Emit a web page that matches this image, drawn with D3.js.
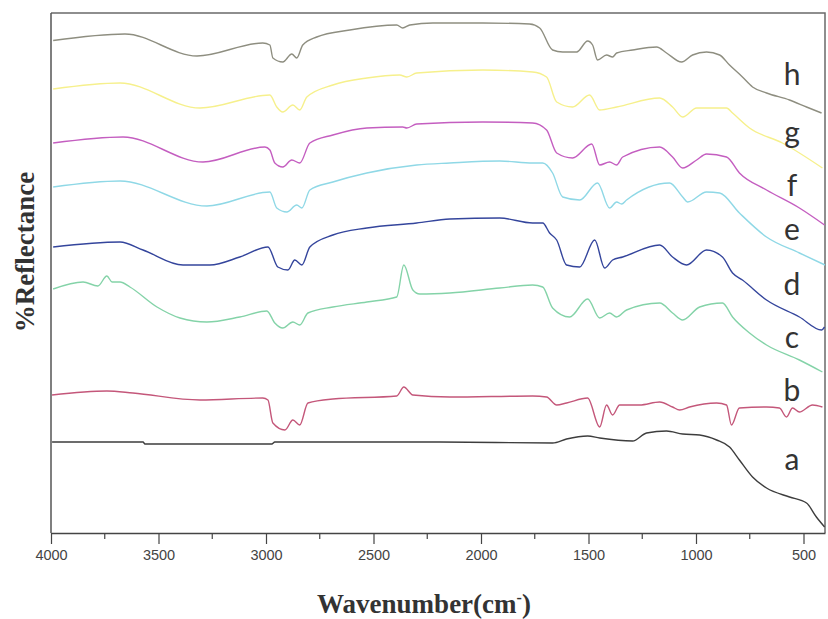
<!DOCTYPE html>
<html>
<head>
<meta charset="utf-8">
<script src="https://cdn.jsdelivr.net/npm/d3@7"></script>
<style>
  body { margin: 0; background: #fff; }
  svg { display: block; }
</style>
</head>
<body>
<svg id="chart" width="828" height="619"></svg>
<script>
// FTIR reflectance spectra, curves a-h stacked with offsets
// wavenumber (cm-1) / %reflectance (offset, arbitrary units)

const seriesNames = ["a", "b", "c", "d", "e", "f", "g", "h"];

const xTicks = [4000, 3500, 3000, 2500, 2000, 1500, 1000, 500];

const wnA = [3995, 3572, 3563, 2973, 2959, 2192, 1667, 1602, 1504, 1448, 1295, 1230, 1137, 1062, 983, 904, 844, 798, 737, 672, 565, 486, 440, 402];
const valA = [18.2, 18.2, 17.8, 17.8, 18.2, 18.2, 18.0, 18.8, 19.4, 19.0, 18.4, 20.0, 20.4, 19.8, 19.6, 18.6, 17.2, 14.6, 11.2, 9.0, 7.2, 6.0, 3.2, 1.2];

const wnB = [3995, 3740, 3619, 3307, 3015, 2991, 2968, 2912, 2875, 2843, 2805, 2689, 2392, 2359, 2317, 2145, 1760, 1695, 1648, 1602, 1504, 1448, 1416, 1388, 1355, 1262, 1169, 1109, 1076, 1030, 904, 858, 835, 798, 672, 612, 579, 551, 519, 458, 412];
const valB = [27.6, 28.4, 28.0, 26.6, 27.0, 26.6, 22.0, 20.6, 22.6, 21.6, 26.0, 26.8, 27.4, 29.2, 27.6, 27.2, 27.4, 27.2, 25.6, 26.0, 27.0, 21.2, 25.6, 23.6, 25.6, 25.6, 26.2, 25.2, 24.6, 25.2, 26.0, 25.6, 21.6, 25.0, 25.2, 25.0, 23.2, 25.0, 24.2, 25.6, 25.2];

const wnC = [3990, 3851, 3782, 3740, 3716, 3679, 3633, 3507, 3400, 3275, 3122, 2996, 2959, 2922, 2875, 2843, 2805, 2689, 2531, 2392, 2359, 2317, 2285, 2145, 1913, 1760, 1713, 1667, 1588, 1504, 1448, 1402, 1369, 1323, 1169, 1109, 1062, 983, 877, 830, 751, 672, 519, 412];
const valC = [48.8, 50.2, 49.4, 51.4, 50.2, 50.2, 49.2, 45.2, 43.0, 42.2, 43.2, 44.4, 42.0, 41.0, 42.2, 41.6, 44.0, 45.2, 46.2, 47.2, 53.6, 48.6, 47.8, 48.0, 49.0, 49.6, 49.2, 45.0, 43.2, 46.8, 43.0, 44.0, 43.2, 44.6, 46.0, 44.0, 42.6, 45.2, 46.0, 43.2, 40.0, 37.6, 34.6, 32.2];

const wnD = [3990, 3679, 3572, 3386, 3261, 3122, 2991, 2945, 2898, 2866, 2833, 2796, 2689, 2531, 2299, 2145, 1913, 1760, 1713, 1681, 1648, 1602, 1541, 1471, 1425, 1388, 1341, 1169, 1109, 1044, 951, 877, 830, 784, 672, 519, 416, 402];
const valD = [57.2, 58.2, 56.6, 53.6, 53.6, 55.2, 57.2, 53.2, 52.6, 54.6, 53.6, 57.2, 59.6, 61.0, 62.0, 62.8, 63.0, 62.0, 62.0, 60.0, 58.6, 53.6, 53.2, 58.6, 53.0, 54.6, 55.2, 57.6, 55.2, 53.6, 56.6, 55.2, 52.0, 50.6, 46.6, 43.2, 40.6, 41.2];

const wnE = [3990, 3679, 3275, 2982, 2950, 2903, 2857, 2833, 2796, 2689, 2531, 2299, 2145, 1913, 1760, 1713, 1667, 1620, 1541, 1458, 1402, 1369, 1346, 1323, 1123, 1062, 1039, 951, 890, 798, 672, 519, 400];
const valE = [69.2, 70.4, 65.4, 68.2, 65.0, 64.2, 65.6, 65.0, 68.6, 70.2, 72.0, 73.6, 74.0, 74.4, 74.0, 74.0, 72.0, 67.2, 66.6, 70.0, 65.0, 66.2, 65.8, 66.6, 70.0, 67.2, 66.2, 68.2, 68.0, 64.0, 59.2, 56.0, 53.6];

const wnF = [3990, 3665, 3293, 3005, 2982, 2959, 2922, 2880, 2843, 2796, 2689, 2531, 2364, 2345, 2299, 1992, 1760, 1695, 1648, 1574, 1485, 1448, 1402, 1369, 1341, 1169, 1109, 1062, 997, 951, 858, 798, 672, 519, 402];
const valF = [78.0, 79.2, 74.2, 77.2, 76.6, 74.0, 73.2, 74.6, 74.0, 78.0, 79.6, 81.0, 81.2, 81.0, 81.8, 82.2, 82.0, 80.6, 76.0, 75.0, 77.8, 73.6, 74.2, 73.6, 75.2, 77.2, 75.2, 73.0, 74.6, 75.8, 75.2, 72.0, 68.6, 65.0, 61.6];

const wnG = [3990, 3679, 3307, 2982, 2950, 2922, 2875, 2843, 2810, 2689, 2531, 2378, 2345, 2299, 1992, 1760, 1695, 1648, 1574, 1495, 1448, 1369, 1169, 1109, 1062, 997, 858, 830, 751, 598, 412];
const valG = [88.8, 90.0, 85.0, 87.6, 85.2, 84.2, 85.6, 84.6, 87.2, 89.6, 91.0, 91.6, 91.2, 92.0, 92.6, 92.2, 91.2, 86.2, 85.2, 87.6, 84.6, 85.2, 87.0, 85.2, 83.2, 85.0, 85.0, 84.0, 81.0, 78.0, 73.0];

const wnH = [3990, 3656, 3321, 3015, 2982, 2968, 2922, 2880, 2857, 2829, 2764, 2610, 2392, 2364, 2331, 2224, 1992, 1774, 1727, 1667, 1620, 1555, 1504, 1481, 1458, 1416, 1388, 1369, 1295, 1183, 1137, 1067, 1016, 951, 890, 844, 784, 737, 672, 565, 486, 416];
const valH = [98.5, 99.8, 95.4, 98.0, 97.6, 95.0, 94.2, 95.8, 95.0, 97.6, 99.2, 100.6, 101.6, 101.0, 101.6, 102.0, 102.0, 101.8, 101.0, 96.6, 96.2, 96.2, 98.4, 97.6, 94.6, 95.6, 95.2, 96.0, 96.6, 97.2, 96.0, 94.2, 95.6, 96.2, 95.6, 93.6, 91.2, 89.2, 88.0, 86.6, 85.2, 84.0];

const wavenumbers = [wnA, wnB, wnC, wnD, wnE, wnF, wnG, wnH];
const reflectance = [valA, valB, valC, valD, valE, valF, valG, valH];

// ---- layout ----
const svg = d3.select("#chart");
const margin = { left: 51, right: 3, top: 13, bottom: 86 };
const W = 828, H = 619;
const x0 = margin.left, x1 = W - margin.right;
const y0 = H - margin.bottom, y1 = margin.top;

const colors = ["#3d3d3d", "#c4577a", "#84d3a8", "#34459c", "#8fd8e6", "#c45ec0", "#f6f08c", "#8e8e80"];
// where the curve letters sit (baseline, px)
const labelBaselines = [470, 401, 348, 295, 240, 196, 143, 85];

const xScale = d3.scaleLinear().domain([4000, 400]).range([x0, x1]);
const yScale = d3.scaleLinear().domain([0, 104]).range([y0, y1]);

const line = d3.line()
    .x(d => xScale(d[0]))
    .y(d => yScale(d[1]))
    .curve(d3.curveMonotoneX);

// frame (top + right)
svg.append("path")
    .attr("d", `M${x0},${y1}H${x1}V${y0}`)
    .attr("fill", "none")
    .attr("stroke", "#6a6a6a")
    .attr("stroke-width", 1.5);

// spectra
seriesNames.forEach((name, i) => {
    const pts = wavenumbers[i].map((w, j) => [w, reflectance[i][j]]);
    svg.append("path")
        .datum(pts)
        .attr("class", "spectrum spectrum-" + name)
        .attr("fill", "none")
        .attr("stroke", colors[i])
        .attr("stroke-width", 1.4)
        .attr("d", line);

    svg.append("text")
        .attr("x", 792)
        .attr("y", labelBaselines[i])
        .attr("text-anchor", "middle")
        .style("font-family", "Lato, 'Open Sans', sans-serif")
        .style("font-size", "30px")
        .style("fill", "#333")
        .text(name);
});

// minor ticks (every 250)
const minorTicks = d3.range(3750, 400, -500);
svg.append("g")
    .attr("transform", `translate(0,${y0})`)
    .selectAll("line")
    .data(minorTicks)
    .join("line")
    .attr("x1", d => xScale(d)).attr("x2", d => xScale(d))
    .attr("y1", 0).attr("y2", 6)
    .attr("stroke", "#444")
    .attr("stroke-width", 1.2);

// x axis
const xAxis = svg.append("g")
    .attr("transform", `translate(0,${y0})`)
    .call(d3.axisBottom(xScale)
        .tickValues(xTicks)
        .tickSize(11)
        .tickPadding(6)
        .tickSizeOuter(0)
        .tickFormat(d3.format("d")));
xAxis.select(".domain").attr("stroke", "#444").attr("stroke-width", 1.6);
xAxis.selectAll(".tick line").attr("stroke", "#444").attr("stroke-width", 1.2);
xAxis.selectAll(".tick text")
    .style("font-family", "'Liberation Sans', Arial, sans-serif")
    .style("font-size", "14.5px")
    .style("fill", "#444");

// y axis line only
svg.append("line")
    .attr("x1", x0).attr("x2", x0)
    .attr("y1", y1).attr("y2", y0)
    .attr("stroke", "#555")
    .attr("stroke-width", 1.5);

// titles
const xTitle = svg.append("text")
    .attr("x", 424)
    .attr("y", 613)
    .attr("text-anchor", "middle")
    .style("font-family", "'Liberation Serif', 'Times New Roman', serif")
    .style("font-weight", "bold")
    .style("font-size", "27px")
    .style("fill", "#333");
xTitle.append("tspan").text("Wavenumber(cm");
xTitle.append("tspan").attr("dy", -10).style("font-size", "16px").text("-");
xTitle.append("tspan").attr("dy", 10).text(")");

svg.append("text")
    .attr("transform", "translate(34,252) rotate(-90)")
    .attr("text-anchor", "middle")
    .style("font-family", "'Liberation Serif', 'Times New Roman', serif")
    .style("font-weight", "bold")
    .style("font-size", "27px")
    .style("fill", "#333")
    .text("%Reflectance");
</script>
</body>
</html>
